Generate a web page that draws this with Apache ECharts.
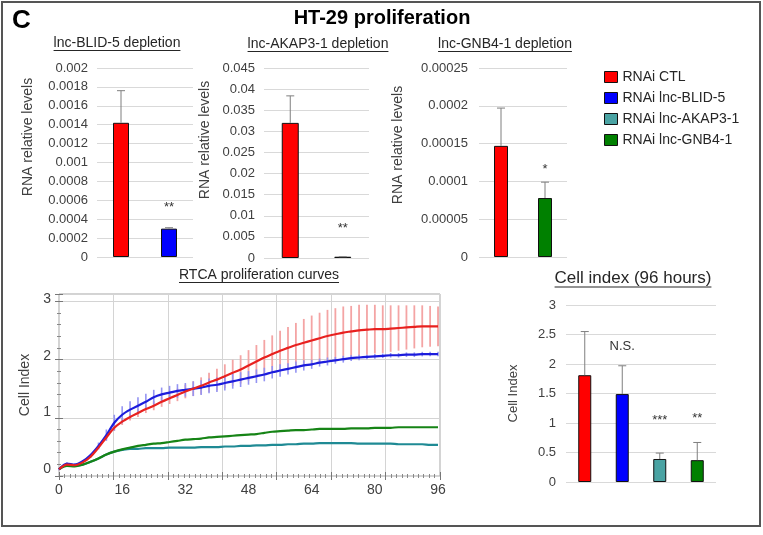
<!DOCTYPE html>
<html><head><meta charset="utf-8">
<script src="https://cdn.jsdelivr.net/npm/echarts@6/dist/echarts.min.js"></script>
<style>html,body{margin:0;padding:0;background:#fff}#c{width:763px;height:535px}</style>
</head><body><div id="c"></div>
<script>
// ---------- DATA ----------
const blidCats = ['RNAi CTL', 'RNAi lnc-BLID-5'];
const blidMean = [0.00142, 0.0003];
const blidErr  = [0.00034, 0.00001];
const blidSig  = ['', '**'];
const blidSigY = [null, 0.00052];
const blidTicks = [0, 0.0002, 0.0004, 0.0006, 0.0008, 0.001, 0.0012, 0.0014, 0.0016, 0.0018, 0.002];

const akapCats = ['RNAi CTL', 'RNAi lnc-AKAP3-1'];
const akapMean = [0.032, 0.0003];
const akapErr  = [0.0064, 0];
const akapSig  = ['', '**'];
const akapSigY = [null, 0.0071];
const akapTicks = [0, 0.005, 0.01, 0.015, 0.02, 0.025, 0.03, 0.035, 0.04, 0.045];

const gnbCats = ['RNAi CTL', 'RNAi lnc-GNB4-1'];
const gnbMean = [0.000147, 0.000078];
const gnbErr  = [0.00005, 0.000021];
const gnbSig  = ['', '*'];
const gnbSigY = [null, 0.000116];
const gnbTicks = [0, 0.00005, 0.0001, 0.00015, 0.0002, 0.00025];

const cellCats = ['RNAi CTL', 'RNAi lnc-BLID-5', 'RNAi lnc-AKAP3-1', 'RNAi lnc-GNB4-1'];
const cellMean = [1.81, 1.49, 0.39, 0.37];
const cellErr  = [0.74, 0.48, 0.10, 0.30];
const cellSig  = ['', 'N.S.', '***', '**'];
const cellSigY = [null, 2.30, 1.05, 1.08];
const cellTicks = [0, 0.5, 1, 1.5, 2, 2.5, 3];

const hours = [0,2,4,6,8,10,12,14,16,18,20,22,24,26,28,30,32,34,36,38,40,42,44,46,48,50,52,54,56,58,60,62,64,66,68,70,72,74,76,78,80,82,84,86,88,90,92,94,96];
const rtcaCTL  = [0.00,0.08,0.07,0.12,0.22,0.38,0.56,0.73,0.84,0.92,0.99,1.06,1.12,1.19,1.25,1.31,1.37,1.42,1.47,1.53,1.58,1.64,1.70,1.76,1.83,1.90,1.97,2.03,2.09,2.14,2.19,2.23,2.27,2.31,2.35,2.38,2.41,2.43,2.45,2.46,2.47,2.47,2.48,2.49,2.50,2.51,2.52,2.52,2.52];
const rtcaBLID = [0.00,0.10,0.08,0.14,0.25,0.41,0.60,0.82,0.96,1.05,1.12,1.19,1.27,1.32,1.35,1.38,1.40,1.42,1.44,1.47,1.49,1.52,1.55,1.58,1.61,1.64,1.67,1.71,1.74,1.77,1.80,1.83,1.85,1.88,1.90,1.92,1.94,1.96,1.97,1.98,1.99,2.00,2.01,2.01,2.02,2.02,2.03,2.03,2.03];
const rtcaAKAP = [0.00,0.08,0.06,0.08,0.13,0.19,0.26,0.31,0.34,0.36,0.36,0.37,0.37,0.37,0.38,0.38,0.38,0.38,0.39,0.39,0.39,0.40,0.40,0.41,0.41,0.42,0.42,0.43,0.43,0.44,0.44,0.45,0.45,0.46,0.46,0.46,0.46,0.46,0.45,0.45,0.45,0.45,0.45,0.44,0.44,0.44,0.44,0.43,0.43];
const rtcaGNB4 = [0.00,0.06,0.05,0.08,0.13,0.19,0.26,0.31,0.35,0.38,0.41,0.43,0.45,0.46,0.48,0.50,0.52,0.53,0.54,0.56,0.57,0.58,0.59,0.60,0.61,0.62,0.64,0.66,0.67,0.68,0.69,0.69,0.70,0.71,0.71,0.71,0.71,0.72,0.72,0.72,0.73,0.73,0.73,0.74,0.74,0.74,0.74,0.74,0.74];
const sdCTL  = [0.02,0.02,0.02,0.02,0.02,0.02,0.02,0.05,0.06,0.06,0.07,0.07,0.08,0.09,0.10,0.11,0.12,0.13,0.15,0.17,0.19,0.21,0.23,0.25,0.27,0.29,0.31,0.33,0.35,0.37,0.39,0.42,0.44,0.45,0.46,0.46,0.46,0.45,0.45,0.44,0.43,0.42,0.41,0.40,0.39,0.38,0.37,0.36,0.35];
const sdBLID = [0.02,0.02,0.02,0.02,0.02,0.06,0.10,0.14,0.15,0.15,0.15,0.14,0.13,0.12,0.12,0.12,0.12,0.13,0.13,0.13,0.13,0.13,0.13,0.13,0.12,0.12,0.12,0.11,0.11,0.10,0.10,0.09,0.08,0.07,0.07,0.06,0.06,0.05,0.05,0.04,0.04,0.04,0.04,0.04,0.04,0.04,0.04,0.04,0.04];
const rtcaXTicks = [0, 16, 32, 48, 64, 80, 96];
const rtcaYTicks = [0, 1, 2, 3];
const legendNames = ['RNAi CTL', 'RNAi lnc-BLID-5', 'RNAi lnc-AKAP3-1', 'RNAi lnc-GNB4-1'];

// ---------- STYLE ----------
const FONT = "'Liberation Sans', Arial, Helvetica, sans-serif";
const TXT = '#404040';
const GRIDC = '#d9d9d9';
const barColor = {'RNAi CTL':'#ff0000','RNAi lnc-BLID-5':'#0000ff','RNAi lnc-AKAP3-1':'#4aa3a3','RNAi lnc-GNB4-1':'#008000'};
const lineColor = {'RNAi CTL':'#e8211f','RNAi lnc-BLID-5':'#1c1cdc','RNAi lnc-AKAP3-1':'#1f8a94','RNAi lnc-GNB4-1':'#168416'};

const chart = echarts.init(document.getElementById('c'), null, {renderer:'canvas'});

function fmt(v){ return String(parseFloat(Number(v).toFixed(8))); }

function barErr(color){
  return function(params, api){
    const i = api.value(0), v = api.value(1), e = api.value(2);
    const a = api.coord([i, v]), b = api.coord([i, v + e]);
    const cap = 4;
    return {type:'group', children:[
      {type:'line', shape:{x1:a[0],y1:a[1],x2:b[0],y2:b[1]}, style:{stroke:color, lineWidth:1}},
      {type:'line', shape:{x1:b[0]-cap,y1:b[1],x2:b[0]+cap,y2:b[1]}, style:{stroke:color, lineWidth:1}}
    ]};
  };
}
function rtcaErr(color, w){
  return function(params, api){
    const t = api.value(0), m = api.value(1), s = api.value(2);
    const a = api.coord([t, m - s]), b = api.coord([t, m + s]);
    return {type:'line', shape:{x1:a[0],y1:a[1],x2:b[0],y2:b[1]}, style:{stroke:color, lineWidth:w}};
  };
}
function sigText(color){
  return function(params, api){
    const p = api.coord([api.value(0), api.value(1)]);
    return {type:'text', x:p[0], y:p[1], style:{text:api.value(2), fontFamily:FONT, fontSize:params.seriesIndex > 20 ? 14 : 13,
      fill:color, align:'center', verticalAlign:'middle'}};
  };
}

const catX = (gi, cats) => ({type:'category', gridIndex:gi, data:cats, axisLabel:{show:false}, axisTick:{show:false}, axisLine:{show:false}});
const valY = (gi, ticks, margin) => ({type:'value', gridIndex:gi, min:0, max:ticks[ticks.length-1], interval:ticks[1]-ticks[0],
  axisLabel:{fontFamily:FONT, fontSize:13, color:TXT, margin:margin, formatter:fmt},
  axisLine:{show:false}, axisTick:{show:false}, splitLine:{lineStyle:{color:GRIDC, width:1}}});

function sigSeries(gi, sig, sigY){
  return {type:'custom', xAxisIndex:gi, yAxisIndex:gi, z:4, silent:true, renderItem:sigText('#333'),
    dimensions:['x','y',{name:'t', type:'ordinal'}],
    data: sig.map((s,i)=> s ? [i, sigY[i], s] : null).filter(Boolean)};
}

function barPanel(gi, cats, mean, err, sig, sigY, bw){
  return [
    {type:'bar', xAxisIndex:gi, yAxisIndex:gi, barWidth:bw, z:2,
      data: mean.map((v,i)=>({value:v, itemStyle:{color:barColor[cats[i]], borderColor:'#111', borderWidth:1}}))},
    {type:'custom', xAxisIndex:gi, yAxisIndex:gi, z:3, renderItem:barErr('#7f7f7f'),
      data: mean.map((v,i)=>[i, v, err[i]]), silent:true},
    sigSeries(gi, sig, sigY)
  ];
}

const series = [];
series.push(...barPanel(0, blidCats, blidMean, blidErr, blidSig, blidSigY, 16));
series.push(...barPanel(1, akapCats, akapMean, akapErr, akapSig, akapSigY, 17));
series.push(...barPanel(2, gnbCats, gnbMean, gnbErr, gnbSig, gnbSigY, 14));

// RTCA error bars
series.push({type:'custom', xAxisIndex:3, yAxisIndex:3, z:1, silent:true, renderItem:rtcaErr('#f4a4a4', 1.8),
  data: hours.map((t,i)=>[t, rtcaCTL[i], sdCTL[i]])});
series.push({type:'custom', xAxisIndex:3, yAxisIndex:3, z:1, silent:true, renderItem:rtcaErr('#9494f2', 1.6),
  data: hours.map((t,i)=>[t, rtcaBLID[i], sdBLID[i]])});
const rtcaSets = [['RNAi lnc-AKAP3-1', rtcaAKAP], ['RNAi lnc-GNB4-1', rtcaGNB4], ['RNAi lnc-BLID-5', rtcaBLID], ['RNAi CTL', rtcaCTL]];
rtcaSets.forEach(([n, arr])=>{
  series.push({type:'line', name:'RTCA ' + n, xAxisIndex:3, yAxisIndex:3, z:3, showSymbol:false, smooth:0.3,
    lineStyle:{color:lineColor[n], width:2.2}, itemStyle:{color:lineColor[n]},
    data: hours.map((t,i)=>[t, arr[i]])});
});

// Cell index bars (one series per group, overlapped)
cellCats.forEach((n, i)=>{
  series.push({type:'bar', name:n, xAxisIndex:6, yAxisIndex:6, barWidth:13, barGap:'-100%', z:2,
    itemStyle:{color:barColor[n], borderColor:'#111', borderWidth:1},
    data: cellMean.map((v,j)=> j===i ? v : '-')});
});
series.push({type:'custom', xAxisIndex:6, yAxisIndex:6, z:3, silent:true, renderItem:barErr('#7f7f7f'),
  data: cellMean.map((v,i)=>[i, v, cellErr[i]])});
series.push(sigSeries(6, cellSig, cellSigY));

// ---------- graphics (titles, underlines, frame) ----------
const mctx = document.createElement('canvas').getContext('2d');
function measure(text, size, weight){ mctx.font = (weight||'normal') + ' ' + size + 'px ' + FONT; return mctx.measureText(text).width; }
function underlined(text, cx, cy, size){
  const w = measure(text, size);
  return [
    {type:'text', x:cx, y:cy, style:{text:text, fontFamily:FONT, fontSize:size, fill:'#262626', align:'center', verticalAlign:'middle'}},
    {type:'rect', shape:{x:cx - w/2, y:cy + size*0.5, width:w, height:1}, style:{fill:'#262626'}}
  ];
}
function vname(text, x, y, size){
  return {type:'text', x:x, y:y, rotation:Math.PI/2, style:{text:text, fontFamily:FONT, fontSize:size, fill:TXT, align:'center', verticalAlign:'middle'}};
}
const graphics = [
  {type:'rect', shape:{x:2, y:2, width:758, height:524}, style:{fill:'none', stroke:'#555', lineWidth:2}},
  {type:'text', x:12, y:21, style:{text:'C', fontFamily:FONT, fontSize:26, fontWeight:'bold', fill:'#000', align:'left', verticalAlign:'middle'}},
  {type:'text', x:382, y:18, style:{text:'HT-29 proliferation', fontFamily:FONT, fontSize:20, fontWeight:'bold', fill:'#000', align:'center', verticalAlign:'middle'}},
  ...underlined('lnc-BLID-5 depletion', 117, 43, 14),
  ...underlined('lnc-AKAP3-1 depletion', 318, 44, 14),
  ...underlined('lnc-GNB4-1 depletion', 505, 44, 14),
  ...underlined('RTCA proliferation curves', 259, 275, 14),
  ...underlined('Cell index (96 hours)', 633, 278, 17),
  vname('RNA relative levels', 28, 137, 14),
  vname('RNA relative levels', 205, 140, 14),
  vname('RNA relative levels', 398, 145, 14)
];

const tickAxisStyle = {axisTick:{show:true, inside:true, length:4, lineStyle:{color:'#777'}},
  minorTick:{show:true, length:2, lineStyle:{color:'#888'}}};

const option = {
  animation:false,
  backgroundColor:'#fff',
  textStyle:{fontFamily:FONT},
  grid:[
    {left:97, top:68, width:96, height:189},
    {left:264, top:68, width:105, height:190},
    {left:479, top:68, width:88, height:189},
    {left:59, top:294, width:381, height:182, show:true, borderColor:'#a6a6a6', borderWidth:1},
    {left:566, top:305, width:150, height:177}
  ],
  xAxis:[
    catX(0, blidCats), catX(1, akapCats), catX(2, gnbCats),
    {type:'value', gridIndex:3, min:0, max:96.5, position:'bottom',
      axisLabel:{customValues:rtcaXTicks, fontFamily:FONT, fontSize:14, color:TXT, margin:7},
      axisLine:{show:false}, axisTick:{show:false}, splitLine:{show:false}},
    {type:'value', gridIndex:3, min:0, max:7, interval:1, position:'top',
      axisLabel:{show:false}, axisLine:{show:false},
      axisTick:tickAxisStyle.axisTick, minorTick:Object.assign({splitNumber:10}, tickAxisStyle.minorTick),
      splitLine:{show:true, lineStyle:{color:'#d4d4d4', width:1}}},
    {type:'value', gridIndex:3, min:0, max:7, interval:1, position:'bottom',
      axisLabel:{show:false}, axisLine:{show:false},
      axisTick:tickAxisStyle.axisTick, minorTick:Object.assign({splitNumber:10}, tickAxisStyle.minorTick),
      splitLine:{show:false}},
    catX(4, cellCats)
  ],
  yAxis:[
    valY(0, blidTicks, 9), valY(1, akapTicks, 9), valY(2, gnbTicks, 11),
    {type:'value', gridIndex:3, min:-0.12, max:3.09, position:'left',
      name:'Cell Index', nameLocation:'middle', nameGap:27, nameRotate:90,
      nameTextStyle:{fontFamily:FONT, fontSize:14, color:TXT},
      axisLabel:{customValues:rtcaYTicks, fontFamily:FONT, fontSize:14, color:TXT, margin:8},
      axisLine:{show:false}, axisTick:{show:false}, splitLine:{show:false}},
    {type:'value', gridIndex:3, min:0, max:3.127, interval:1, position:'right',
      axisLabel:{show:false}, axisLine:{show:false},
      axisTick:tickAxisStyle.axisTick, minorTick:Object.assign({splitNumber:5}, tickAxisStyle.minorTick),
      splitLine:{show:true, lineStyle:{color:'#d4d4d4', width:1}}},
    {type:'value', gridIndex:3, min:0, max:3.127, interval:1, position:'left',
      axisLabel:{show:false}, axisLine:{show:false},
      axisTick:tickAxisStyle.axisTick, minorTick:Object.assign({splitNumber:5}, tickAxisStyle.minorTick),
      splitLine:{show:false}},
    Object.assign(valY(4, cellTicks, 10), {name:'Cell Index', nameLocation:'middle', nameGap:46, nameRotate:90,
      nameTextStyle:{fontFamily:FONT, fontSize:13, color:TXT}})
  ],
  legend:{
    orient:'vertical', left:599, top:65, itemWidth:13, itemHeight:11, itemGap:7,
    textStyle:{fontFamily:FONT, fontSize:14, color:'#262626'},
    selectedMode:false,
    data: legendNames.map(n=>({name:n, icon:'rect', itemStyle:{color:barColor[n], borderColor:'#111', borderWidth:1}}))
  },
  graphic: graphics,
  series: series
};
option.xAxis[6].gridIndex = 4;
option.yAxis[6].gridIndex = 4;
chart.setOption(option);
</script></body></html>
